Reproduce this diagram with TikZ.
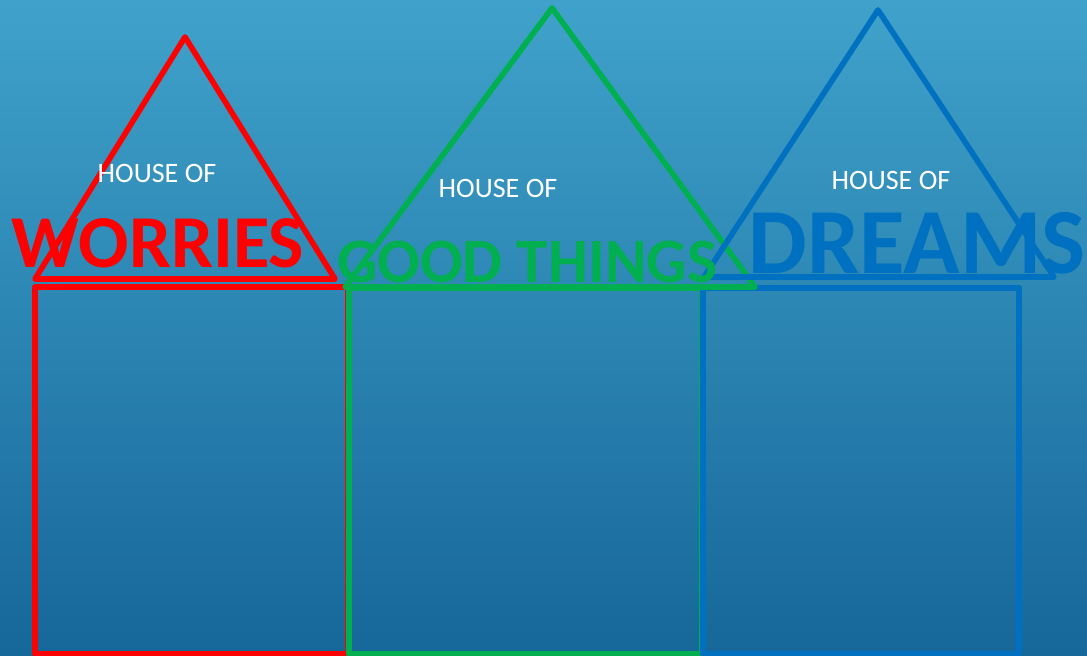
\documentclass[tikz,border=0pt]{standalone}
\usepackage{fontspec}
\setmainfont{Carlito}
\usepackage{xcolor}
\usepackage{tikz}
\usetikzlibrary{positioning}
\definecolor{hred}{HTML}{FF0000}
\definecolor{hgreen}{HTML}{00B050}
\definecolor{hblue}{HTML}{0070C0}
\definecolor{bgtop}{HTML}{40A2CA}
\definecolor{bgbot}{HTML}{16679A}
\begin{document}
\begin{tikzpicture}[
  x=0.02cm, y=-0.02cm,
  wall/.style={line width=3.2pt, line join=round},
  sub/.style={inner sep=0, anchor=base, text=white, font=\fontsize{16}{18}\selectfont},
  big/.style={inner sep=0, anchor=base, font=\fontsize{#1}{#1}\selectfont\bfseries}
]
  \useasboundingbox (0,0) rectangle (1087,655);
  \clip (0,0) rectangle (1087,655);
  \shade[top color=bgtop, bottom color=bgbot] (0,0) rectangle (1087,655);
  % walls
  \draw[wall, hred] (35,287) rectangle (348,654);
  \draw[wall, hgreen] (349,288) rectangle (702,654);
  \draw[wall, hblue] (703,288) rectangle (1019,654);
  % roofs
  \draw[wall, hred] (185,37) -- (335,279) -- (35,279) -- cycle;
  \draw[wall, hgreen] (552,8) -- (755,287) -- (345,287) -- cycle;
  \draw[wall, hblue] (878,10) -- (1054,277) -- (704,277) -- cycle;
  % labels
  \node[sub] (hw) at (157,182) {HOUSE OF};
  \node[big=42.5, text=hred] (worries) at (158,267) {WORRIES};
  \node[sub] (hg) at (498,197) {HOUSE OF};
  \node[big=36, text=hgreen] (good) at (527,282) {GOOD THINGS};
  \node[sub] (hd) at (891,190) {HOUSE OF};
  \node[big=53, text=hblue, anchor=base east] (dreams) at (1086,273) {DREAMS};
\end{tikzpicture}
\end{document}
